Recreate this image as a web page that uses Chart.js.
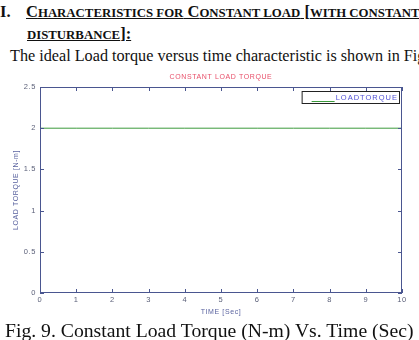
<!DOCTYPE html>
<html>
<head>
<meta charset="utf-8">
<script src="https://cdn.jsdelivr.net/npm/chart.js@4.4.0/dist/chart.umd.min.js"></script>
<style>
  html, body { margin: 0; padding: 0; background: #fff; }
  body { width: 419px; height: 340px; overflow: hidden; position: relative; font-family: "Liberation Serif", "Times New Roman", serif; color: #111; }
  .txt { position: absolute; white-space: nowrap; }
  #h1 { left: 0; top: 2px; font-size: 16.5px; font-weight: bold; }
  .u { text-decoration: underline; }
  .sc { font-size: 12.8px; text-transform: uppercase; }
  #h1 .u { position: absolute; left: 26px; top: 0; }
  #h2 { left: 27px; top: 24px; font-size: 16.5px; font-weight: bold; }
  #para { left: 10px; top: 47px; font-size: 16.2px; }
  #caption { left: 5px; top: 319px; font-size: 19.7px; }
  #chartCanvas { position: absolute; left: 0; top: 62px; }
</style>
</head>
<body>
<div class="txt" id="h1">I. <span class="u">C<span class="sc">haracteristics for</span> C<span class="sc">onstant load</span> [<span class="sc">with constant</span></span></div>
<div class="txt" id="h2"><span class="u"><span class="sc">disturbance</span>]:</span></div>
<div class="txt" id="para">The ideal Load torque versus time characteristic is shown in Fig</div>
<canvas id="chartCanvas" width="419" height="262"></canvas>
<div class="txt" id="caption">Fig. 9. Constant Load Torque (N-m) Vs. Time (Sec)</div>

<script>
// data
const timeSec = [0, 1, 2, 3, 4, 5, 6, 7, 8, 9, 10];
const loadTorque = [2, 2, 2, 2, 2, 2, 2, 2, 2, 2, 2];
const xTickLabels = ['0', '1', '2', '3', '4', '5', '6', '7', '8', '9', '10'];
const yTickLabels = ['0', '0.5', '1', '1.5', '2', '2.5'];

const frameColor = '#4a5690';
const tickTextColor = '#5a5f78';

// box round the plot, small inward ticks on all four sides, boxed legend
const framePlugin = {
    id: 'frame',
    beforeDraw(chart) {
        chart.ctx.letterSpacing = '0.6px';
    },
    afterDraw(chart) {
        const ctx = chart.ctx;
        const a = chart.chartArea;
        const xs = chart.scales.x;
        const ys = chart.scales.y;
        ctx.save();
        ctx.strokeStyle = frameColor;
        ctx.lineWidth = 1;
        ctx.strokeRect(a.left + 0.5, a.top + 0.5, a.right - a.left - 1, a.bottom - a.top - 1);
        ctx.beginPath();
        xs.ticks.forEach(t => {
            const px = Math.round(xs.getPixelForValue(t.value)) + 0.5;
            ctx.moveTo(px, a.bottom);
            ctx.lineTo(px, a.bottom - 4);
            ctx.moveTo(px, a.top);
            ctx.lineTo(px, a.top + 4);
        });
        ys.ticks.forEach(t => {
            const py = Math.round(ys.getPixelForValue(t.value)) + 0.5;
            ctx.moveTo(a.left, py);
            ctx.lineTo(a.left + 4, py);
            ctx.moveTo(a.right, py);
            ctx.lineTo(a.right - 4, py);
        });
        ctx.stroke();

        // legend
        const ds = chart.data.datasets[0];
        ctx.font = '7.5px "Liberation Sans", Arial, sans-serif';
        ctx.letterSpacing = '1px';
        const tw = ctx.measureText(ds.label).width;
        const boxR = a.right - 3, boxT = a.top + 4, boxH = 12;
        const boxL = boxR - (tw + 35);
        ctx.strokeStyle = '#222';
        ctx.strokeRect(boxL + 0.5, boxT + 0.5, boxR - boxL, boxH);
        ctx.strokeStyle = ds.borderColor;
        ctx.beginPath();
        ctx.moveTo(boxL + 10, boxT + boxH - 1.5);
        ctx.lineTo(boxL + 33, boxT + boxH - 1.5);
        ctx.stroke();
        ctx.fillStyle = '#5252d6';
        ctx.textBaseline = 'middle';
        ctx.fillText(ds.label, boxL + 34, boxT + 6.5);
        ctx.restore();
    }
};

new Chart(document.getElementById('chartCanvas'), {
    type: 'line',
    data: {
        labels: timeSec,
        datasets: [{
            label: 'LOADTORQUE',
            data: loadTorque,
            borderColor: '#3c9a3c',
            borderWidth: 1,
            pointRadius: 0,
            tension: 0
        }]
    },
    options: {
        responsive: false,
        animation: false,
        layout: { padding: { left: 0, right: 17, top: 0, bottom: 0 } },
        plugins: {
            legend: { display: false },
            tooltip: { enabled: false },
            title: {
                display: true,
                fullSize: false,
                text: 'CONSTANT LOAD TORQUE',
                color: '#e8506a',
                font: { family: '"Liberation Sans", Arial, sans-serif', size: 7, weight: 'normal' },
                padding: { top: 11, bottom: 5.6 }
            }
        },
        scales: {
            x: {
                type: 'linear',
                min: 0,
                max: 10,
                afterFit: s => { s.height = 31; },
                ticks: {
                    stepSize: 1,
                    padding: 2,
                    color: tickTextColor,
                    font: { family: '"Liberation Sans", Arial, sans-serif', size: 7.5 },
                    callback: (v, i) => xTickLabels[i]
                },
                grid: { display: false, drawTicks: false },
                border: { display: false },
                title: {
                    display: true,
                    text: 'TIME [Sec]',
                    color: '#5b64a0',
                    font: { family: '"Liberation Sans", Arial, sans-serif', size: 7 },
                    padding: { top: 0, bottom: 8 }
                }
            },
            y: {
                min: 0,
                max: 2.5,
                afterFit: s => { s.width = 40; },
                ticks: {
                    stepSize: 0.5,
                    padding: 4,
                    color: tickTextColor,
                    font: { family: '"Liberation Sans", Arial, sans-serif', size: 7.5 },
                    callback: (v, i) => yTickLabels[i]
                },
                grid: { display: false, drawTicks: false },
                border: { display: false },
                title: {
                    display: true,
                    text: 'LOAD TORQUE [N-m]',
                    color: '#5b64a0',
                    font: { family: '"Liberation Sans", Arial, sans-serif', size: 7 },
                    padding: { top: 12, bottom: 0 }
                }
            }
        }
    },
    plugins: [framePlugin]
});
</script>
</body>
</html>
